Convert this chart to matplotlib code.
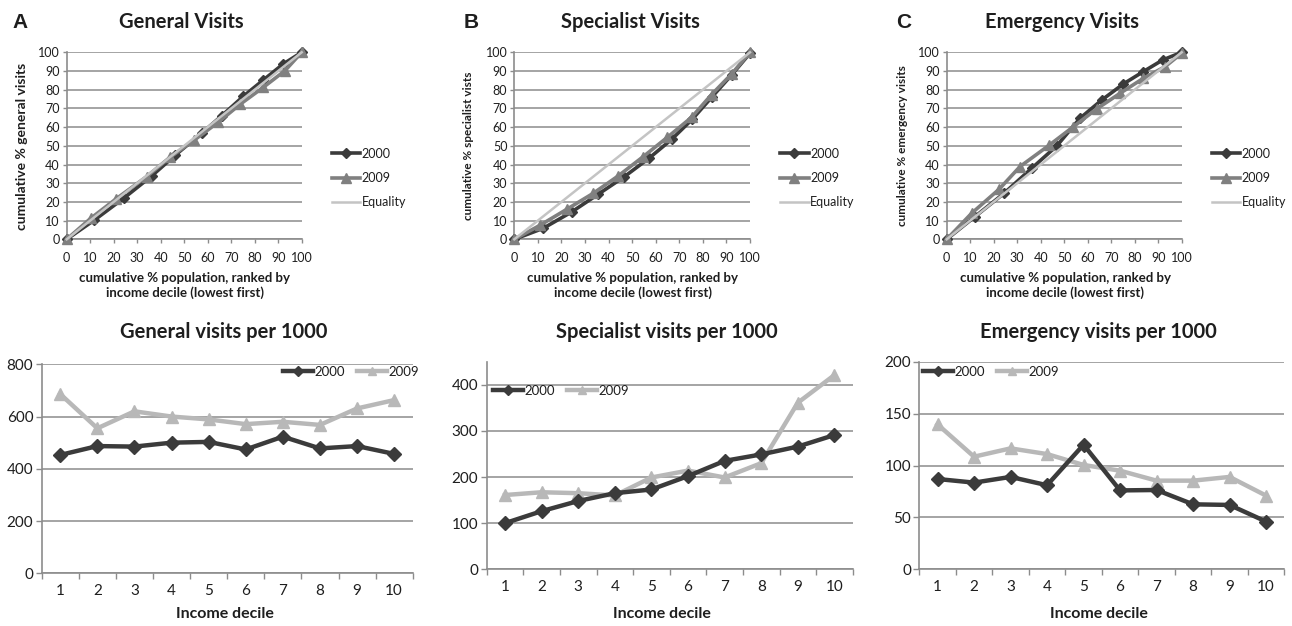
import matplotlib
matplotlib.use("Agg")
import matplotlib.pyplot as plt
from matplotlib.ticker import FixedLocator

plt.rcParams['font.family'] = ['Lato', 'DejaVu Sans']

W, H = 1292, 626
DPI = 100

# ---------------- data ----------------
# Concentration curves (cumulative % population, cumulative % visits)
gen_x_2000 = [0, 11.8, 24.4, 36.2, 46.1, 57.4, 66.0, 75.2, 83.7, 92.2, 100]
gen_y_2000 = [0, 10.3, 22.1, 33.9, 44.9, 56.7, 66.1, 76.5, 85.2, 93.8, 100]
gen_x_2009 = [0, 10.2, 21.0, 34.0, 44.0, 54.3, 64.5, 73.8, 83.7, 92.9, 100]
gen_y_2009 = [0, 11.2, 21.6, 33.5, 43.9, 53.1, 62.6, 72.2, 81.3, 90.2, 100]

spe_x_2000 = [0, 12.3, 24.3, 35.6, 46.7, 57.3, 66.8, 75.5, 83.7, 92.2, 100]
spe_y_2000 = [0, 5.9, 14.6, 24.1, 33.5, 43.5, 53.5, 64.2, 75.9, 87.9, 99.5]
spe_x_2009 = [0, 10.9, 22.2, 33.5, 44.1, 54.7, 64.9, 75.2, 83.7, 92.2, 100]
spe_y_2009 = [0, 7.5, 16.0, 24.6, 33.9, 44.2, 54.5, 65.2, 77.4, 88.4, 100]

eme_x_2000 = [0, 12.0, 24.4, 36.2, 46.8, 56.7, 66.0, 75.2, 83.7, 91.9, 100]
eme_y_2000 = [0, 12.1, 24.6, 38.0, 49.9, 64.7, 74.5, 83.1, 89.7, 95.9, 100]
eme_x_2009 = [0, 10.6, 22.4, 31.2, 43.7, 53.9, 63.8, 73.8, 83.7, 92.9, 100]
eme_y_2009 = [0, 13.9, 26.9, 38.9, 50.4, 60.2, 69.7, 78.1, 86.1, 92.3, 99.5]

equality = [0, 100]

# Visits per 1000 by income decile
deciles = [1, 2, 3, 4, 5, 6, 7, 8, 9, 10]
gen_rate_2000 = [453, 487, 485, 500, 503, 474, 523, 478, 487, 457]
gen_rate_2009 = [686, 555, 620, 600, 589, 571, 580, 568, 631, 663]
spe_rate_2000 = [100, 126, 148, 165, 173, 202, 235, 249, 266, 291]
spe_rate_2009 = [161, 167, 165, 160, 199, 214, 199, 230, 361, 421]
eme_rate_2000 = [87, 83.5, 89, 81, 120, 76, 76.4, 62.6, 62, 46]
eme_rate_2009 = [139.6, 108.5, 116.5, 111, 100.5, 95, 85.4, 85.4, 89, 71]

# ---------------- style ----------------
C2000 = '#3b3b3b'
C2009_TOP = '#808080'
C2009_BOT = '#b8b8b8'
CEQ = '#c4c4c4'
GRID = '#8c8c8c'
TXT = '#1e1e1e'

fig = plt.figure(figsize=(W / DPI, H / DPI), dpi=DPI)


def px_axes(left, top, right, bottom):
    return fig.add_axes([left / W, 1 - bottom / H, (right - left) / W, (bottom - top) / H])


def ftext(x, y, s, **kw):
    fig.text(x / W, 1 - y / H, s, color=TXT, **kw)


def style_axes(ax):
    for sp in ['top', 'right']:
        ax.spines[sp].set_visible(False)
    for sp in ['left', 'bottom']:
        ax.spines[sp].set_color(GRID)
        ax.spines[sp].set_linewidth(1.2)
    ax.tick_params(colors=GRID, labelcolor=TXT)


# ---------------- top panels ----------------
top_specs = [
    (66.7, 301.7, gen_x_2000, gen_y_2000, gen_x_2009, gen_y_2009,
     'cumulative % general visits', 10),
    (514.3, 750.0, spe_x_2000, spe_y_2000, spe_x_2009, spe_y_2009,
     'cumulative % specialist vists', 8.5),
    (946.7, 1181.7, eme_x_2000, eme_y_2000, eme_x_2009, eme_y_2009,
     'cumulative % emergency visits', 8.5),
]
top_titles = ['General Visits', 'Specialist Visits', 'Emergency Visits']
letters = ['A', 'B', 'C']
letter_x = [12, 464, 896]
title_x = [181.7, 630, 1061.7]
ylabel_x = [22, 469, 902]
xlabel_x = [185, 632.7, 1065]

for i, (l, r, x0, y0, x9, y9, ylab, yls) in enumerate(top_specs):
    ax = px_axes(l, 52.3, r, 239.3)
    style_axes(ax)
    ax.set_xlim(0, 100)
    ax.set_ylim(0, 100)
    ax.set_xticks(range(0, 101, 10))
    ax.set_yticks(range(0, 101, 10))
    ax.tick_params(axis='both', labelsize=9, length=3, width=1, pad=2)
    ax.tick_params(axis='x', pad=6)
    ax.yaxis.grid(True, color=GRID, linewidth=1.1)
    ax.set_axisbelow(True)
    ax.plot(x0, y0, color=C2000, linewidth=2.6, marker='D', markersize=5,
            label='2000', zorder=3, clip_on=False)
    ax.plot(x9, y9, color=C2009_TOP, linewidth=2.6, marker='^', markersize=6.5,
            label='2009', zorder=4, clip_on=False)
    ax.plot(equality, equality, color=CEQ, linewidth=1.8, label='Equality',
            zorder=5, clip_on=False)
    leg = ax.legend(loc='upper left', bbox_to_anchor=((r + 30) / W, 1 - 147.5 / H),
                    bbox_transform=fig.transFigure, frameon=False, fontsize=9,
                    handlelength=2.3, handletextpad=0.1, labelspacing=1.0,
                    borderpad=0, borderaxespad=0)
    for t in leg.get_texts():
        t.set_color(TXT)
    ftext(title_x[i], 22, top_titles[i], fontsize=14.5, fontweight='bold',
          ha='center', va='center')
    ftext(letter_x[i], 22, letters[i], fontsize=15, fontweight='bold',
          ha='left', va='center', family=['Liberation Sans', 'DejaVu Sans'])
    ftext(ylabel_x[i], 146, ylab, fontsize=yls, fontweight='bold',
          rotation=90, ha='center', va='center')
    ftext(xlabel_x[i], 285.5, 'cumulative % population, ranked by\nincome decile (lowest first)',
          fontsize=9.5, fontweight='bold', ha='center', va='center', linespacing=1.3)

# ---------------- bottom panels ----------------
bot_specs = [
    (41.7, 364.3, 412.7, 573.3, gen_rate_2000, gen_rate_2009, 800, 800, 200,
     'General visits per 1000', 223.3, 225, (283, 366)),
    (486.7, 361.7, 852.7, 569.3, spe_rate_2000, spe_rate_2009, 450, 400, 100,
     'Specialist visits per 1000', 666.7, 661.7, (493, 385)),
    (919.3, 361.7, 1284.3, 569.3, eme_rate_2000, eme_rate_2009, 200, 200, 50,
     'Emergency visits per 1000', 1098.3, 1099.3, (923, 366)),
]

for (l, t, r, b, r0, r9, ymax, ytop, ystep, title, tx, xlx, legpos) in bot_specs:
    ax = px_axes(l, t, r, b)
    style_axes(ax)
    ax.set_xlim(0.5, 10.5)
    ax.set_ylim(0, ymax)
    yt = list(range(0, ytop + 1, ystep))
    ax.set_yticks(yt)
    ax.set_xticks(deciles)
    ax.xaxis.set_minor_locator(FixedLocator([d + 0.5 for d in [0] + deciles]))
    ax.tick_params(axis='x', which='major', length=0, labelsize=11, pad=8)
    ax.tick_params(axis='x', which='minor', length=4, width=1, colors=GRID)
    ax.tick_params(axis='y', labelsize=11, length=4, width=1, pad=2)
    ax.yaxis.grid(True, color=GRID, linewidth=1.1)
    ax.set_axisbelow(True)
    ax.plot(deciles, r0, color=C2000, linewidth=3.2, marker='D', markersize=7,
            label='2000', zorder=4)
    ax.plot(deciles, r9, color=C2009_BOT, linewidth=3.2, marker='^', markersize=8,
            label='2009', zorder=3)
    leg = ax.legend(loc='upper left', bbox_to_anchor=(legpos[0] / W, 1 - legpos[1] / H),
                    bbox_transform=fig.transFigure, frameon=False, fontsize=9.5,
                    ncol=2, handlelength=2.3, handletextpad=0.1, markerscale=0.75,
                    columnspacing=0.9, borderpad=0, borderaxespad=0)
    for tt in leg.get_texts():
        tt.set_color(TXT)
    ftext(tx, 332, title, fontsize=14.5, fontweight='bold', ha='center', va='center')
    ftext(xlx, 614.5, 'Income decile', fontsize=11.5, fontweight='bold',
          ha='center', va='center')

fig.savefig('out.png', dpi=DPI, facecolor='white')
